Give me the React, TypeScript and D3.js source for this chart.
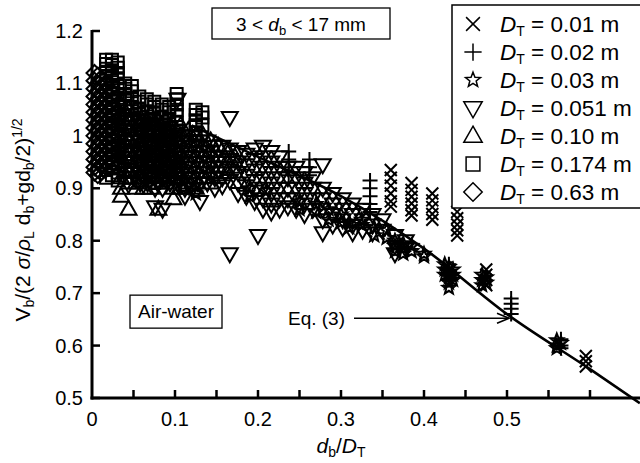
import React from "react";
import * as d3 from "d3";

type Col = [number, number[]];

// Each column: d_b/D_T and the V_b/(2σ/ρL db + g db/2)^(1/2) values read at it
const dt001: Col[] = [
  [0.36, [0.935, 0.92, 0.905, 0.89, 0.875, 0.865]],
  [0.385, [0.91, 0.897, 0.884, 0.871, 0.858, 0.848]],
  [0.41, [0.89, 0.877, 0.864, 0.851, 0.84]],
  [0.44, [0.855, 0.843, 0.831, 0.82, 0.81]],
  [0.475, [0.745, 0.735, 0.725, 0.715]],
  [0.595, [0.58, 0.57, 0.56]],
];
const dt002: Col[] = [
  [0.237, [0.97, 0.955, 0.94, 0.925]],
  [0.262, [0.955, 0.94, 0.925]],
  [0.335, [0.915, 0.9, 0.885, 0.87, 0.855]],
  [0.43, [0.755, 0.745, 0.735, 0.725]],
  [0.505, [0.69, 0.68, 0.67, 0.66]],
  [0.565, [0.612, 0.6, 0.595]],
];
const dt003: Col[] = [
  [0.11, [0.915, 0.9]],
  [0.125, [0.905, 0.89]],
  [0.19, [0.9, 0.885]],
  [0.21, [0.895]],
  [0.25, [0.875, 0.86]],
  [0.27, [0.87, 0.855]],
  [0.285, [0.86, 0.84]],
  [0.3, [0.85, 0.835]],
  [0.31, [0.835, 0.825]],
  [0.325, [0.84, 0.83]],
  [0.34, [0.825, 0.81]],
  [0.355, [0.82, 0.805]],
  [0.365, [0.8, 0.79, 0.78]],
  [0.375, [0.795, 0.785, 0.775]],
  [0.385, [0.79, 0.78]],
  [0.4, [0.775, 0.77]],
  [0.425, [0.755, 0.745, 0.735]],
  [0.43, [0.75, 0.74, 0.73, 0.72, 0.71]],
  [0.435, [0.745, 0.735, 0.725]],
  [0.47, [0.735, 0.725, 0.715]],
  [0.475, [0.73, 0.72]],
  [0.56, [0.61, 0.6, 0.595]],
  [0.565, [0.605]],
];
const dt0051: Col[] = [
  [0.058, [1.03, 1.01, 0.99, 0.97, 0.95, 0.93, 0.91]],
  [0.067, [1.03, 1.01, 0.99, 0.97, 0.95, 0.93, 0.91]],
  [0.076, [1.02, 1.0, 0.98, 0.96, 0.94, 0.92, 0.9, 0.865]],
  [0.085, [1.02, 1.0, 0.98, 0.96, 0.94, 0.92, 0.9, 0.86]],
  [0.094, [1.01, 0.99, 0.97, 0.95, 0.93, 0.91]],
  [0.103, [1.07, 1.01, 0.99, 0.97, 0.95, 0.93, 0.91]],
  [0.112, [1.0, 0.98, 0.96, 0.94, 0.92, 0.9, 0.885]],
  [0.121, [1.0, 0.98, 0.96, 0.94, 0.92, 0.9]],
  [0.13, [0.99, 0.97, 0.95, 0.93, 0.91, 0.875]],
  [0.139, [0.99, 0.97, 0.95, 0.93, 0.91]],
  [0.148, [0.98, 0.96, 0.94, 0.92, 0.9]],
  [0.157, [0.98, 0.96, 0.94, 0.92, 0.905]],
  [0.166, [1.035, 0.975, 0.955, 0.935, 0.915, 0.775]],
  [0.176, [0.97, 0.95, 0.93, 0.91, 0.89]],
  [0.186, [0.965, 0.945, 0.925, 0.905, 0.885]],
  [0.196, [0.975, 0.955, 0.935, 0.915, 0.895, 0.875]],
  [0.2, [0.81]],
  [0.206, [0.98, 0.96, 0.94, 0.92, 0.9, 0.88, 0.86]],
  [0.216, [0.97, 0.95, 0.93, 0.91, 0.89, 0.87, 0.855]],
  [0.226, [0.96, 0.94, 0.92, 0.9, 0.88, 0.86]],
  [0.236, [0.94, 0.92, 0.9, 0.88, 0.865]],
  [0.246, [0.94, 0.92, 0.9, 0.88, 0.86]],
  [0.256, [0.93, 0.91, 0.89, 0.87, 0.85]],
  [0.266, [0.92, 0.9, 0.88, 0.86]],
  [0.278, [0.945, 0.9, 0.88, 0.86, 0.84, 0.815]],
  [0.29, [0.89, 0.87, 0.85, 0.83]],
  [0.302, [0.88, 0.86, 0.84, 0.825]],
  [0.314, [0.87, 0.85, 0.83, 0.815]],
  [0.326, [0.86, 0.84, 0.82]],
  [0.338, [0.85, 0.83, 0.815]],
  [0.35, [0.84, 0.82]],
  [0.365, [0.81, 0.79, 0.775]],
  [0.378, [0.8, 0.785]],
];
const dt010: Col[] = [
  [0.035, [1.06, 1.04, 1.02, 1.0, 0.98, 0.96, 0.94, 0.92, 0.9, 0.885]],
  [0.044, [1.05, 1.03, 1.01, 0.99, 0.97, 0.95, 0.93, 0.91, 0.86]],
  [0.053, [1.05, 1.03, 1.01, 0.99, 0.97, 0.95, 0.93, 0.91, 0.9]],
  [0.062, [1.04, 1.02, 1.0, 0.98, 0.96, 0.94, 0.92, 0.9]],
  [0.071, [1.04, 1.02, 1.0, 0.98, 0.96, 0.94, 0.92, 0.9]],
  [0.08, [1.03, 1.01, 0.99, 0.97, 0.95, 0.93, 0.91, 0.86]],
  [0.089, [1.03, 1.01, 0.99, 0.97, 0.95, 0.93, 0.91]],
  [0.098, [1.02, 1.0, 0.98, 0.96, 0.94, 0.92, 0.9, 0.88]],
  [0.107, [1.02, 1.0, 0.98, 0.96, 0.94, 0.92, 0.9]],
  [0.116, [1.01, 0.99, 0.97, 0.95, 0.93, 0.91]],
  [0.125, [1.0, 0.98, 0.96, 0.94, 0.92, 0.9]],
  [0.134, [1.0, 0.98, 0.96, 0.94, 0.92]],
  [0.143, [0.99, 0.97, 0.95, 0.93, 0.91]],
  [0.152, [0.98, 0.96, 0.94, 0.92]],
  [0.162, [0.97, 0.95, 0.93]],
  [0.172, [0.96, 0.94]],
];
const dt0174: Col[] = [
  [0.017, [1.145, 1.137, 1.128, 1.12, 1.11, 1.1, 1.085, 1.07, 1.055, 1.04, 1.025, 1.01, 0.995, 0.98, 0.965, 0.95, 0.935, 0.92]],
  [0.024, [1.145, 1.135, 1.125, 1.115, 1.105, 1.09, 1.075, 1.06, 1.045, 1.03, 1.015, 1.0, 0.985, 0.97, 0.955, 0.94, 0.925]],
  [0.031, [1.14, 1.13, 1.12, 1.11, 1.095, 1.08, 1.065, 1.05, 1.035, 1.02, 1.005, 0.99, 0.975, 0.96, 0.945, 0.93, 0.915]],
  [0.04, [1.1, 1.09, 1.08, 1.07, 1.055, 1.04, 1.025, 1.01, 0.995, 0.98, 0.965, 0.95, 0.935, 0.92]],
  [0.048, [1.095, 1.085, 1.07, 1.055, 1.04, 1.025, 1.01, 0.995, 0.98, 0.965, 0.95, 0.935, 0.92]],
  [0.057, [1.075, 1.065, 1.05, 1.035, 1.02, 1.005, 0.99, 0.975, 0.96, 0.945, 0.93, 0.915]],
  [0.066, [1.07, 1.06, 1.045, 1.03, 1.015, 1.0, 0.985, 0.97, 0.955, 0.94, 0.925]],
  [0.075, [1.065, 1.055, 1.045, 1.03, 1.015, 1.0, 0.985, 0.97, 0.955, 0.94, 0.925, 0.91]],
  [0.084, [1.06, 1.05, 1.035, 1.02, 1.005, 0.99, 0.975, 0.96, 0.945, 0.93, 0.915]],
  [0.093, [1.055, 1.045, 1.03, 1.015, 1.0, 0.985, 0.97, 0.955, 0.94, 0.925]],
  [0.102, [1.08, 1.07, 1.06, 1.05, 1.04, 1.025, 1.01, 0.995, 0.98, 0.965, 0.95, 0.935, 0.92]],
  [0.125, [1.05, 1.04, 1.03, 1.02, 1.005, 0.99]],
  [0.133, [1.045, 1.035, 1.02]],
];
const dt063: Col[] = [
  [0.003, [1.12, 1.105, 1.09, 1.075, 1.06, 1.045, 1.03, 1.015, 1.0, 0.985, 0.97, 0.955, 0.94, 0.93]],
  [0.007, [1.115, 1.1, 1.085, 1.07, 1.055, 1.04, 1.025, 1.01, 0.995, 0.98, 0.965, 0.95, 0.935, 0.925]],
  [0.011, [1.11, 1.095, 1.08, 1.065, 1.05, 1.035, 1.02, 1.005, 0.99, 0.975, 0.96, 0.945, 0.93]],
  [0.016, [1.1, 1.085, 1.07, 1.055, 1.04, 1.025, 1.01, 0.995, 0.98, 0.965, 0.95, 0.935]],
  [0.021, [1.09, 1.075, 1.06, 1.045, 1.03, 1.015, 1.0, 0.985, 0.97, 0.955, 0.94]],
  [0.026, [1.07, 1.055, 1.04, 1.025, 1.01, 0.995, 0.98, 0.965, 0.95]],
];

// Eq. (3) curve
const eqX = [0.12, 0.2, 0.3, 0.4, 0.5, 0.6, 0.66];
const eqY = [1.02, 0.96, 0.885, 0.785, 0.66, 0.555, 0.49];

const legendLabels = ["0.01", "0.02", "0.03", "0.051", "0.10", "0.174", "0.63"];
const xTickLabels = [0, 0.1, 0.2, 0.3, 0.4, 0.5];
const yTickLabels = [0.5, 0.6, 0.7, 0.8, 0.9, 1.0, 1.1, 1.2];
const xMinorTicks = [0.05, 0.1, 0.15, 0.2, 0.25, 0.3, 0.35, 0.4, 0.45, 0.5, 0.55, 0.6];

const W = 640;
const H = 463;
const x = d3.scaleLinear().domain([0, 0.5]).range([92, 507]);
const y = d3.scaleLinear().domain([0.5, 1.2]).range([398, 31]);

function starPath(ro: number, ri: number) {
  const pts: string[] = [];
  for (let i = 0; i < 10; i++) {
    const r = i % 2 === 0 ? ro : ri;
    const a = -Math.PI / 2 + (i * Math.PI) / 5;
    pts.push(`${(r * Math.cos(a)).toFixed(2)},${(r * Math.sin(a)).toFixed(2)}`);
  }
  return "M" + pts.join("L") + "Z";
}

const symbols: Record<string, string> = {
  cross: "M-6,-6L6,6M-6,6L6,-6",
  plus: "M-7.5,0L7.5,0M0,-7.5L0,7.5",
  star: starPath(6.8, 2.9),
  tdown: "M-8,-5.5L8,-5.5L0,8.5Z",
  tup: "M0,-8.5L8,5.5L-8,5.5Z",
  square: "M-6,-6H6V6H-6Z",
  diamond: "M0,-8L8,0L0,8L-8,0Z",
};

const series: { cols: Col[]; sym: string }[] = [
  { cols: dt063, sym: "diamond" },
  { cols: dt0174, sym: "square" },
  { cols: dt010, sym: "tup" },
  { cols: dt0051, sym: "tdown" },
  { cols: dt003, sym: "star" },
  { cols: dt002, sym: "plus" },
  { cols: dt001, sym: "cross" },
];
const legendSyms = ["cross", "plus", "star", "tdown", "tup", "square", "diamond"];

const FONT = "'Liberation Sans', Arial, Helvetica, sans-serif";

export default function App() {
  const line = d3
    .line<number>()
    .x((_, i) => x(eqX[i]))
    .y((d) => y(d))
    .curve(d3.curveMonotoneX);

  const arrowTipX = x(0.5) + 2;
  const arrowY = y(0.652);
  const awTop = y(0.7) + 2;

  return (
    <svg
      width={W}
      height={H}
      style={{ position: "fixed", left: 0, top: 0, background: "#fff" }}
      fontFamily={FONT}
    >
      <rect x={0} y={0} width={W} height={H} fill="#fff" />
      {/* markers */}
      <g fill="none" stroke="#000" strokeWidth={2}>
        {series.map((s, si) =>
          s.cols.map((c, ci) =>
            c[1].map((v, vi) => (
              <path
                key={`${si}-${ci}-${vi}`}
                d={symbols[s.sym]}
                transform={`translate(${x(c[0])},${y(v)})`}
              />
            ))
          )
        )}
      </g>
      {/* Eq. (3) line */}
      <path d={line(eqY) || ""} fill="none" stroke="#000" strokeWidth={2.6} />
      {/* axes */}
      <g stroke="#000">
        <line x1={x(0)} y1={y(1.2) - 1} x2={x(0)} y2={y(0.5) + 1.5} strokeWidth={3} />
        <line x1={x(0) - 1.5} y1={y(0.5)} x2={W} y2={y(0.5)} strokeWidth={3} />
        {yTickLabels.map((t) => (
          <line key={"yt" + t} x1={x(0)} x2={x(0) + 8} y1={y(t)} y2={y(t)} strokeWidth={2.5} />
        ))}
        {xMinorTicks.map((t) => (
          <line key={"xt" + t} x1={x(t)} x2={x(t)} y1={y(0.5)} y2={y(0.5) - 8} strokeWidth={2.5} />
        ))}
      </g>
      <g fontSize={20} fill="#000">
        {yTickLabels.map((t) => (
          <text key={"yl" + t} x={x(0) - 9} y={y(t) + 7} textAnchor="end">
            {t === 1 ? "1" : t.toFixed(1)}
          </text>
        ))}
        {xTickLabels.map((t) => (
          <text key={"xl" + t} x={x(t)} y={y(0.5) + 28} textAnchor="middle">
            {t === 0 ? "0" : t.toFixed(1)}
          </text>
        ))}
      </g>
      {/* axis titles */}
      <text x={x(0.3)} y={453} textAnchor="middle" fontSize={21}>
        <tspan fontStyle="italic">d</tspan>
        <tspan fontSize={14} dy={4}>b</tspan>
        <tspan dy={-4}>/</tspan>
        <tspan fontStyle="italic">D</tspan>
        <tspan fontSize={14} dy={4}>T</tspan>
      </text>
      <text transform={`translate(30,220) rotate(-90)`} textAnchor="middle" fontSize={21}>
        <tspan>V</tspan>
        <tspan fontSize={14} dy={4}>b</tspan>
        <tspan dy={-4}>/(2 </tspan>
        <tspan fontStyle="italic">σ</tspan>
        <tspan>/</tspan>
        <tspan fontStyle="italic">ρ</tspan>
        <tspan fontSize={14} dy={4}>L</tspan>
        <tspan dy={-4}> d</tspan>
        <tspan fontSize={14} dy={4}>b</tspan>
        <tspan dy={-4}>+gd</tspan>
        <tspan fontSize={14} dy={4}>b</tspan>
        <tspan dy={-4}>/2)</tspan>
        <tspan fontSize={14} dy={-8}>1/2</tspan>
      </text>
      {/* range box */}
      <rect x={212} y={8} width={178} height={31} fill="#fff" stroke="#000" strokeWidth={1.3} />
      <text x={301} y={31} textAnchor="middle" fontSize={19}>
        <tspan>3 &lt; </tspan>
        <tspan fontStyle="italic">d</tspan>
        <tspan fontSize={13} dy={4}>b</tspan>
        <tspan dy={-4}> &lt; 17 mm</tspan>
      </text>
      {/* legend */}
      <rect x={452} y={5} width={200} height={203} fill="#fff" stroke="#000" strokeWidth={1.5} />
      {legendLabels.map((l, i) => (
        <g key={"lg" + i} transform={`translate(0,${24 + i * 28})`}>
          <path
            d={symbols[legendSyms[i]]}
            transform={`translate(473,0) scale(1.15)`}
            fill="none"
            stroke="#000"
            strokeWidth={1.3}
          />
          <text x={500} y={8} fontSize={22.5}>
            <tspan fontStyle="italic">D</tspan>
            <tspan fontSize={14} dy={4}>T</tspan>
            <tspan dy={-4}>{` = ${l} m`}</tspan>
          </text>
        </g>
      ))}
      {/* Air-water box */}
      <rect x={130} y={awTop} width={92} height={33} fill="#fff" stroke="#000" strokeWidth={1.3} />
      <text x={176} y={awTop + 23} textAnchor="middle" fontSize={19}>
        Air-water
      </text>
      {/* Eq. (3) annotation */}
      <text x={345} y={arrowY + 7} textAnchor="end" fontSize={19}>
        Eq. (3)
      </text>
      <g stroke="#000" strokeWidth={1.6} fill="none">
        <line x1={354} y1={arrowY} x2={arrowTipX} y2={arrowY} />
        <path d={`M${arrowTipX - 12},${arrowY - 5}L${arrowTipX},${arrowY}L${arrowTipX - 12},${arrowY + 5}`} />
      </g>
    </svg>
  );
}
